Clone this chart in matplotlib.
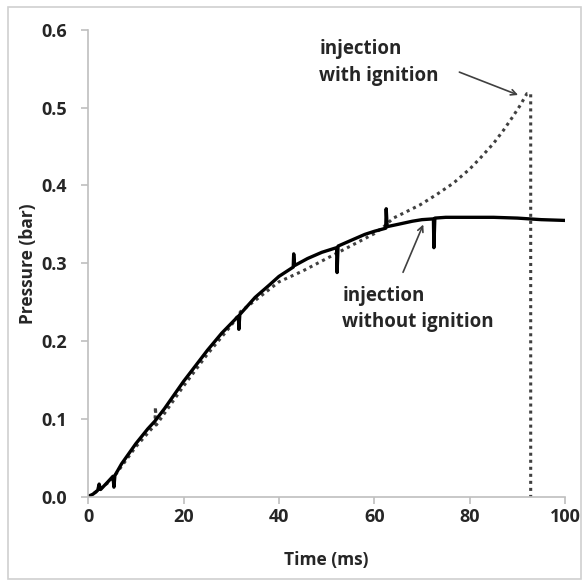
import numpy as np
import matplotlib.pyplot as plt
from matplotlib.patches import Rectangle

plt.rcParams['font.family'] = ['Open Sans', 'DejaVu Sans']
plt.rcParams['font.weight'] = 'bold'
plt.rcParams['axes.labelweight'] = 'bold'

# injection without ignition (solid), with a few spikes
t_no = [0, 1, 2, 2.3, 2.6, 4, 5.2, 5.4, 5.6, 7, 10, 12.5, 14, 16, 20, 23, 25,
        28, 31.5, 31.6, 31.8, 35, 38, 40, 43, 43.1, 43.3, 46, 49, 52.1, 52.2,
        52.4, 55, 58, 60, 62.4, 62.5, 62.7, 65, 68, 70, 72.4, 72.5, 72.7, 75,
        80, 85, 90, 95, 100]
p_no = [0.0, 0.003, 0.008, 0.016, 0.009, 0.018, 0.026, 0.012, 0.027, 0.042,
        0.068, 0.087, 0.097, 0.113, 0.148, 0.172, 0.188, 0.210, 0.232, 0.215,
        0.234, 0.256, 0.272, 0.283, 0.295, 0.312, 0.297, 0.306, 0.314, 0.32,
        0.288, 0.322, 0.329, 0.337, 0.341, 0.345, 0.37, 0.347, 0.35, 0.354,
        0.356, 0.357, 0.32, 0.358, 0.359, 0.359, 0.359, 0.358, 0.356, 0.355]

# injection with ignition (dotted)
t_ig = [0, 2, 5, 10, 14, 14.1, 14.3, 20, 25, 30, 32, 35, 40, 45, 50, 55, 60,
        62, 64, 66, 69.6, 73, 76.6, 80, 82.2, 85, 87.1, 89, 90.6, 92, 92.8,
        92.8]
p_ig = [0.0, 0.007, 0.022, 0.064, 0.092, 0.115, 0.092, 0.142, 0.183, 0.22,
        0.238, 0.252, 0.276, 0.29, 0.306, 0.322, 0.338, 0.347, 0.358, 0.364,
        0.375, 0.388, 0.403, 0.421, 0.435, 0.454, 0.471, 0.488, 0.503, 0.518,
        0.518, 0.0]

x_ticks = [0, 20, 40, 60, 80, 100]
y_ticks = [0.0, 0.1, 0.2, 0.3, 0.4, 0.5, 0.6]

fig = plt.figure(figsize=(5.84, 5.86), dpi=100)
fig.patches.append(Rectangle((8 / 584, 7 / 586), 573 / 584, 572 / 586,
                             transform=fig.transFigure, fill=False,
                             edgecolor='#D0D0D0', linewidth=1.2))
ax = fig.add_axes([0.151, 0.1527, 0.8165, 0.7963])

ax.plot(t_ig, p_ig, color='#404040', linestyle=(0, (1, 1.3)), linewidth=2.2)
ax.plot(t_no, p_no, color='black', linewidth=2.4)

ax.set_xlim(0, 100)
ax.set_ylim(0, 0.6)
ax.set_xticks(x_ticks)
ax.set_yticks(y_ticks)
ax.set_yticklabels(['%.1f' % v for v in y_ticks])
for s in ['top', 'right']:
    ax.spines[s].set_visible(False)
for s in ['left', 'bottom']:
    ax.spines[s].set_color('#BFBFBF')
    ax.spines[s].set_linewidth(1.2)
ax.tick_params(colors='#BFBFBF', labelcolor='#262626', labelsize=13, length=5, width=1.2)
ax.tick_params(axis='y', pad=10)
ax.set_xlabel('Time (ms)', fontsize=12.5, color='#262626', labelpad=18)
ax.set_ylabel('Pressure (bar)', fontsize=12.5, color='#262626', labelpad=3)

ax.text(48.5, 0.558, 'injection\nwith ignition', fontsize=13.5, color='#262626',
        va='center', linespacing=1.45)
ax.annotate('', xy=(90.7, 0.515), xytext=(77.3, 0.547),
            arrowprops=dict(arrowstyle='->', color='#404040', lw=1.2))
ax.text(53.3, 0.241, 'injection\nwithout ignition', fontsize=13.5, color='#262626',
        va='center', linespacing=1.45)
ax.annotate('', xy=(70.5, 0.353), xytext=(65.8, 0.285),
            arrowprops=dict(arrowstyle='->', color='#404040', lw=1.2))

fig.savefig('out.png', dpi=100)
